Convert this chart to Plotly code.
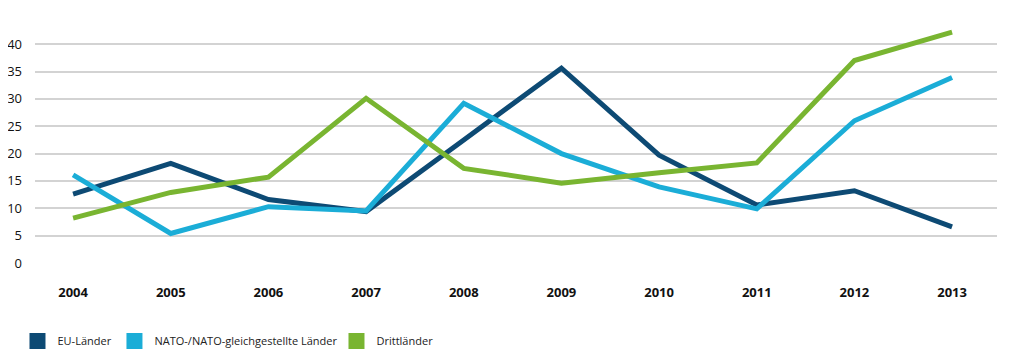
import plotly.graph_objects as go

years = [2004, 2005, 2006, 2007, 2008, 2009, 2010, 2011, 2012, 2013]
eu = [12.6, 18.2, 11.6, 9.4, 22.5, 35.6, 19.7, 10.6, 13.2, 6.6]
nato = [16.1, 5.4, 10.3, 9.5, 29.2, 20.0, 13.9, 9.9, 26.0, 33.9]
dritt = [8.2, 12.9, 15.7, 30.1, 17.3, 14.6, 16.5, 18.3, 37.0, 42.2]
names = ["EU-Länder", "NATO-/NATO-gleichgestellte Länder", "Drittländer"]
colors = ["#0d4a74", "#1badd7", "#79b531"]
y_ticks = [0, 5, 10, 15, 20, 25, 30, 35, 40]

fig = go.Figure()
for name, vals, col in zip(names, [eu, nato, dritt], colors):
    fig.add_trace(go.Scatter(x=years, y=vals, mode="lines", name=name,
                             line=dict(color=col, width=5), showlegend=False,
                             cliponaxis=False))
legend_ids = ["legend", "legend2", "legend3"]
for name, col, lg in zip(names, colors, legend_ids):
    fig.add_trace(go.Scatter(x=[None], y=[None], mode="markers", name=name,
                             legend=lg,
                             marker=dict(color=col, symbol="square", size=17)))

leg_common = dict(orientation="h", xref="paper", y=-0.328, yanchor="middle",
                  font=dict(size=11, color="#222"), itemwidth=30,
                  bgcolor="rgba(0,0,0,0)")

fig.update_layout(
    width=1010, height=356,
    margin=dict(l=27, r=21, t=17, b=101, autoexpand=False),
    paper_bgcolor="white", plot_bgcolor="white",
    font=dict(family="Open Sans", size=13, color="#1a1a1a"),
    xaxis=dict(range=[2003.61, 2013.46], tickvals=years,
               ticktext=[f"<b>{y}</b>" for y in years],
               showgrid=False, zeroline=False, showline=False, automargin=False,
               ticks="", ticklabelstandoff=20,
               tickfont=dict(size=13, color="#111")),
    yaxis=dict(range=[0, 43.5], tickvals=y_ticks, showgrid=True,
               gridcolor="#d3d3d3", gridwidth=1.5, zeroline=False, automargin=False,
               ticks="", ticklabelstandoff=12,
               tickfont=dict(size=13, color="#111")),
    legend=dict(x=-0.0182, **leg_common),
    legend2=dict(x=0.0826, **leg_common),
    legend3=dict(x=0.3134, **leg_common),
)
fig.write_html("out.html")
